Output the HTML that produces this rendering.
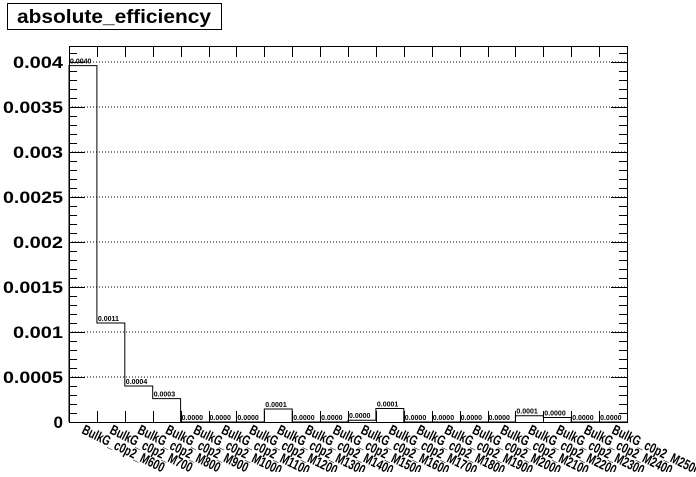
<!DOCTYPE html>
<html><head><meta charset="utf-8"><style>
body{margin:0;background:#fff}
svg text{font-family:"Liberation Sans",Arial,sans-serif;font-weight:bold}
</style></head><body>
<svg width="696" height="472" viewBox="0 0 696 472">
<rect x="0" y="0" width="696" height="472" fill="#fff"/>
<rect x="7.5" y="3.5" width="214" height="26" fill="#fff" stroke="#000"/>
<text x="17" y="23" font-size="19" textLength="194" lengthAdjust="spacingAndGlyphs">absolute_efficiency</text>
<g id="plot"></g>
</svg>
<script>
const categories=["BulkG_c0p2_M600","BulkG_c0p2_M700","BulkG_c0p2_M800","BulkG_c0p2_M900","BulkG_c0p2_M1000","BulkG_c0p2_M1100","BulkG_c0p2_M1200","BulkG_c0p2_M1300","BulkG_c0p2_M1400","BulkG_c0p2_M1500","BulkG_c0p2_M1600","BulkG_c0p2_M1700","BulkG_c0p2_M1800","BulkG_c0p2_M1900","BulkG_c0p2_M2000","BulkG_c0p2_M2100","BulkG_c0p2_M2200","BulkG_c0p2_M2300","BulkG_c0p2_M2400","BulkG_c0p2_M2500"];
const values=[0.00396,0.0011,0.00040,0.00026,0,0,0,0.000145,0,0,0.00002,0.00015,0,0,0,0,0.00007,0.00005,0,0];
const valueLabels=["0.0040","0.0011","0.0004","0.0003","0.0000","0.0000","0.0000","0.0001","0.0000","0.0000","0.0000","0.0001","0.0000","0.0000","0.0000","0.0000","0.0001","0.0000","0.0000","0.0000"];
const yTicks=[0,0.0005,0.001,0.0015,0.002,0.0025,0.003,0.0035,0.004];
const yTickLabels=["0","0.0005","0.001","0.0015","0.002","0.0025","0.003","0.0035","0.004"];
const X0=69,X1=627,Y0=422,Y1=46,YMAX=0.004178;
const bw=(X1-X0)/categories.length;
const xs=i=>X0+i*bw;
const ys=v=>Y0-(v/YMAX)*(Y0-Y1);
const NS="http://www.w3.org/2000/svg";
const g=document.getElementById('plot');
function mk(t,a,p){const e=document.createElementNS(NS,t);for(const k in a)e.setAttribute(k,a[k]);(p||g).appendChild(e);return e;}
yTicks.forEach((v,i)=>{if(i===0)return;const l=mk('line',{x1:X0,x2:X1,y1:ys(v),y2:ys(v),stroke:'#000','stroke-dasharray':'1,2','stroke-width':1});

});
const fr=mk('rect',{x:X0+0.5,y:Y1+0.5,width:X1-X0,height:Y0-Y1,fill:'none',stroke:'#000'});


for(let k=0;k*0.0001<=YMAX;k++){const v=k*0.0001,y=Math.round(ys(v))+0.5,len=(k%5===0)?16:8;
mk('line',{x1:X0,x2:X0+len,y1:y,y2:y,stroke:'#000'});mk('line',{x1:X1,x2:X1-len,y1:y,y2:y,stroke:'#000'});}
yTicks.forEach((v,i)=>{const t=mk('text',{x:X0-6,y:ys(v)+6,'font-size':17,'text-anchor':'end'});t.textContent=yTickLabels[i];
if(yTickLabels[i].length>1){t.setAttribute('textLength',yTickLabels[i].length*10);t.setAttribute('lengthAdjust','spacingAndGlyphs');}

});
for(let i=0;i<=categories.length;i++){const x=Math.round(xs(i))+0.5;mk('line',{x1:x,x2:x,y1:Y0,y2:Y0-11,stroke:'#000'});mk('line',{x1:x,x2:x,y1:Y1,y2:Y1+11,stroke:'#000'});}
let d='M'+X0+','+Y0;
values.forEach((v,i)=>{d+=' L'+xs(i)+','+ys(v)+' L'+xs(i+1)+','+ys(v);});
d+=' L'+X1+','+Y0;
const h=mk('path',{d:d,fill:'none',stroke:'#000','stroke-width':1});


values.forEach((v,i)=>{const t=mk('text',{x:xs(i)+1,y:ys(v)-2,'font-size':7});t.textContent=valueLabels[i];


const tl=mk('text',{x:0,y:0,'font-size':14,textLength:(categories[i].length*6).toFixed(1),lengthAdjust:'spacingAndGlyphs',transform:`translate(${xs(i)+bw/2-2},${Y0+11}) rotate(26)`});tl.textContent=categories[i];

});
</script>
</body></html>
